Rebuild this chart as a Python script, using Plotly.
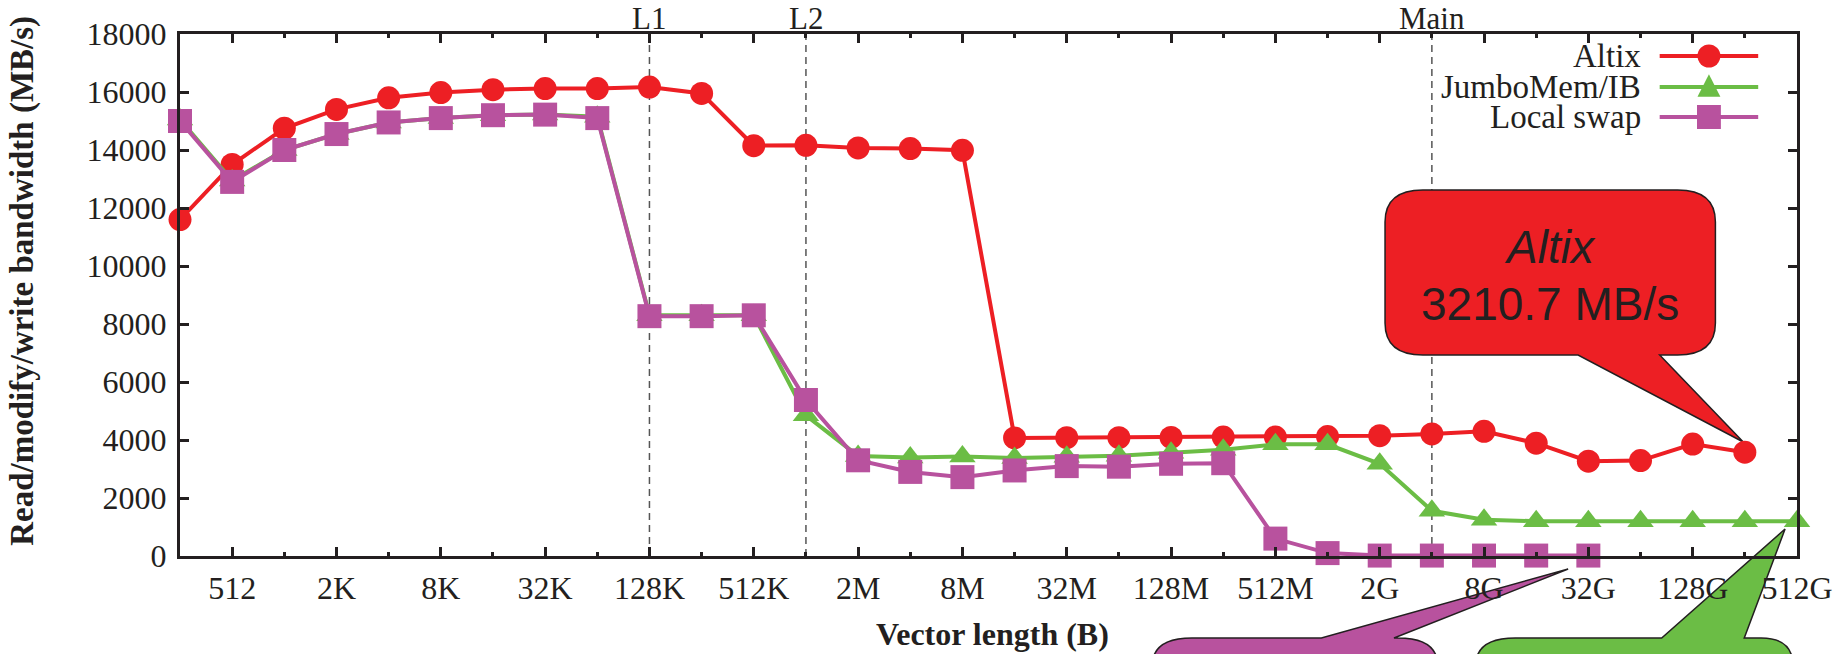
import plotly.graph_objects as go

# ---------------- data ----------------
vector_length_log2 = [8, 9, 10, 11, 12, 13, 14, 15, 16, 17, 18, 19, 20, 21, 22, 23,
                      24, 25, 26, 27, 28, 29, 30, 31, 32, 33, 34, 35, 36, 37, 38, 39]
tick_positions = [9, 11, 13, 15, 17, 19, 21, 23, 25, 27, 29, 31, 33, 35, 37, 39]
tick_labels = ["512", "2K", "8K", "32K", "128K", "512K", "2M", "8M", "32M",
               "128M", "512M", "2G", "8G", "32G", "128G", "512G"]
y_tick_values = [0, 2000, 4000, 6000, 8000, 10000, 12000, 14000, 16000, 18000]
y_tick_labels = ["0", "2000", "4000", "6000", "8000", "10000", "12000", "14000", "16000", "18000"]

altix_bw = [11600, 13500, 14750, 15400, 15800, 15980, 16080, 16120, 16120, 16170,
            15950, 14150, 14160, 14070, 14050, 13990, 4070, 4080, 4080, 4090,
            4100, 4100, 4120, 4150, 4210, 4300, 3890, 3270, 3290, 3860, 3580]
jumbomem_bw = [15050, 12950, 14000, 14550, 14950, 15100, 15200, 15220, 15150, 8300,
               8300, 8300, 4850, 3450, 3400, 3430, 3380, 3420, 3460, 3560,
               3660, 3850, 3850, 3180, 1560, 1250, 1200, 1200, 1200, 1200, 1200, 1200]
local_swap_bw = [15000, 12900, 14000, 14550, 14950, 15100, 15200, 15220, 15100, 8270,
                 8270, 8300, 5380, 3300, 2900, 2720, 2950, 3100, 3080, 3180,
                 3200, 600, 100, 15, 15, 15, 15, 15]

series_names = ["Altix", "JumboMem/IB", "Local swap"]
cache_boundaries_log2 = [17, 20, 32]
cache_labels = ["L1", "L2", "Main"]
altix_callout = ["Altix", "3210.7 MB/s"]

# ---------------- style ----------------
RED = "#ED1F24"
GREEN = "#6BBD45"
MAGENTA = "#B8529E"
INK = "#231F20"
SERIF = "Liberation Serif"
SANS = "Liberation Sans"

W, H = 1845, 654
L, R, T, B = 180, 1805, 34, 556


def px(X):
    return (X - L) / (R - L)


def py(Y):
    return (B - Y) / (B - T)


def P(X, Y):
    return f"{px(X):.5f},{py(Y):.5f}"


fig = go.Figure()

series = [
    (altix_bw, RED, "circle", 23),
    (jumbomem_bw, GREEN, "triangle-up", 23),
    (local_swap_bw, MAGENTA, "square", 24),
]
for (vals, col, sym, size), name in zip(series, series_names):
    fig.add_trace(go.Scatter(
        x=vector_length_log2[:len(vals)], y=vals, name=name,
        mode="lines+markers",
        line=dict(color=col, width=4),
        marker=dict(symbol=sym, size=size, color=col, line=dict(width=0)),
        cliponaxis=False, showlegend=False,
    ))

shapes = []
# cache-boundary dashed lines
for xb in cache_boundaries_log2:
    shapes.append(dict(type="line", xref="x", yref="paper", x0=xb, x1=xb, y0=0, y1=1,
                       line=dict(color="#555555", width=1.5, dash="7px,5px"), layer="below"))

# red callout (Altix)
x0, x1, y0, y1, rx, ry = 1391, 1723, 190, 355, 38, 32
red_path = (f"M {P(x0+rx, y0)} L {P(x1-rx, y0)} Q {P(x1, y0)} {P(x1, y0+ry)} "
            f"L {P(x1, y1-ry)} Q {P(x1, y1)} {P(x1-rx, y1)} L {P(1667, y1)} "
            f"L {P(1751, 442)} L {P(1585, y1)} L {P(x0+rx, y1)} Q {P(x0, y1)} {P(x0, y1-ry)} "
            f"L {P(x0, y0+ry)} Q {P(x0, y0)} {P(x0+rx, y0)} Z")
shapes.append(dict(type="path", xref="paper", yref="paper", path=red_path,
                   fillcolor=RED, line=dict(color=INK, width=1.5), layer="below"))

# magenta callout (bottom, cut off)
mx0, mx1, top, bot, rx2, ry2 = 1157, 1444, 638, 720, 40, 28
mag_path = (f"M {P(mx0, bot)} L {P(mx0, top+ry2)} Q {P(mx0, top)} {P(mx0+rx2, top)} "
            f"L {P(1327, top)} L {P(1575, 569)} L {P(1400, top)} L {P(mx1-rx2, top)} "
            f"Q {P(mx1, top)} {P(mx1, top+ry2)} L {P(mx1, bot)} Z")
shapes.append(dict(type="path", xref="paper", yref="paper", path=mag_path,
                   fillcolor=MAGENTA, line=dict(color=INK, width=1.5), layer="below"))

# green callout (bottom, cut off)
gx0, gx1 = 1482, 1801
grn_path = (f"M {P(gx0, bot)} L {P(gx0, top+ry2)} Q {P(gx0, top)} {P(gx0+rx2, top)} "
            f"L {P(1669, top)} L {P(1793, 529)} L {P(1752, top)} L {P(gx1-32, top)} "
            f"Q {P(gx1, top)} {P(gx1, top+ry2)} L {P(gx1, bot)} Z")
shapes.append(dict(type="path", xref="paper", yref="paper", path=grn_path,
                   fillcolor=GREEN, line=dict(color=INK, width=1.5), layer="below"))

annotations = []
# cache labels above top axis
for xb, lab in zip(cache_boundaries_log2, cache_labels):
    annotations.append(dict(x=xb, xref="x", y=1, yref="paper", xanchor="center",
                            yanchor="bottom", text=lab, showarrow=False, yshift=-4,
                            font=dict(family=SERIF, size=31, color=INK)))

# manual legend (text left, sample right)
legend_rows_y = [56, 87, 117]
legend_text_right = 1650
lx0, lx1 = 1667, 1766
lxc = (lx0 + lx1) / 2
for (vals, col, sym, size), name, ry_ in zip(series, series_names, legend_rows_y):
    annotations.append(dict(x=px(legend_text_right), xref="paper", y=py(ry_), yref="paper",
                            xanchor="right", yanchor="middle", text=name, showarrow=False,
                            font=dict(family=SERIF, size=33, color=INK)))
    shapes.append(dict(type="line", xref="paper", yref="paper", x0=px(lx0), x1=px(lx1),
                       y0=py(ry_), y1=py(ry_), line=dict(color=col, width=4), layer="above"))
    h = size / 2
    if sym == "circle":
        shapes.append(dict(type="circle", xref="paper", yref="paper",
                           x0=px(lxc - h), x1=px(lxc + h), y0=py(ry_ - h), y1=py(ry_ + h),
                           fillcolor=col, line=dict(width=0), layer="above"))
    elif sym == "square":
        shapes.append(dict(type="rect", xref="paper", yref="paper",
                           x0=px(lxc - h), x1=px(lxc + h), y0=py(ry_ - h), y1=py(ry_ + h),
                           fillcolor=col, line=dict(width=0), layer="above"))
    else:
        tri = (f"M {P(lxc - h, ry_ + 0.42*size)} L {P(lxc + h, ry_ + 0.42*size)} "
               f"L {P(lxc, ry_ - 0.55*size)} Z")
        shapes.append(dict(type="path", xref="paper", yref="paper", path=tri,
                           fillcolor=col, line=dict(width=0), layer="above"))

# red callout text
annotations.append(dict(x=px(1557), xref="paper", y=py(247), yref="paper",
                        xanchor="center", yanchor="middle",
                        text=f"<i>{altix_callout[0]}</i>", showarrow=False,
                        font=dict(family=SANS, size=46, color=INK)))
annotations.append(dict(x=px(1557), xref="paper", y=py(304), yref="paper",
                        xanchor="center", yanchor="middle",
                        text=altix_callout[1], showarrow=False,
                        font=dict(family=SANS, size=46, color=INK)))

# axis titles
annotations.append(dict(x=px(997), xref="paper", y=py(634), yref="paper",
                        xanchor="center", yanchor="middle",
                        text="<b>Vector length (B)</b>", showarrow=False,
                        font=dict(family=SERIF, size=32, color=INK)))
annotations.append(dict(x=px(21), xref="paper", y=py(281), yref="paper",
                        xanchor="center", yanchor="middle", textangle=-90,
                        text="<b>Read/modify/write bandwidth (MB/s)</b>", showarrow=False,
                        font=dict(family=SERIF, size=33, color=INK)))

fig.update_layout(
    width=W, height=H,
    margin=dict(l=L, r=W - R, t=T, b=H - B, pad=0),
    paper_bgcolor="white", plot_bgcolor="white",
    showlegend=False,
    shapes=shapes, annotations=annotations,
    font=dict(family=SERIF, size=32, color=INK),
)
fig.update_xaxes(
    range=[8, 39], tickmode="array", tickvals=tick_positions, ticktext=tick_labels,
    ticks="inside", ticklen=9, tickwidth=2.5, tickcolor=INK,
    showline=True, linewidth=3, linecolor=INK, mirror="ticks",
    showgrid=False, zeroline=False,
    tickfont=dict(family=SERIF, size=32, color=INK), ticklabelstandoff=2,
    minor=dict(tickvals=[v - 1 for v in tick_positions], ticks="inside", ticklen=4,
               tickwidth=2.5, tickcolor=INK, showgrid=False),
)
fig.update_yaxes(
    range=[0, 18000], tickmode="array", tickvals=y_tick_values, ticktext=y_tick_labels,
    ticks="inside", ticklen=9, tickwidth=2.5, tickcolor=INK,
    showline=True, linewidth=3, linecolor=INK, mirror="ticks",
    showgrid=False, zeroline=False,
    tickfont=dict(family=SERIF, size=32, color=INK), ticklabelstandoff=4,
)

fig.write_html("out.html")
